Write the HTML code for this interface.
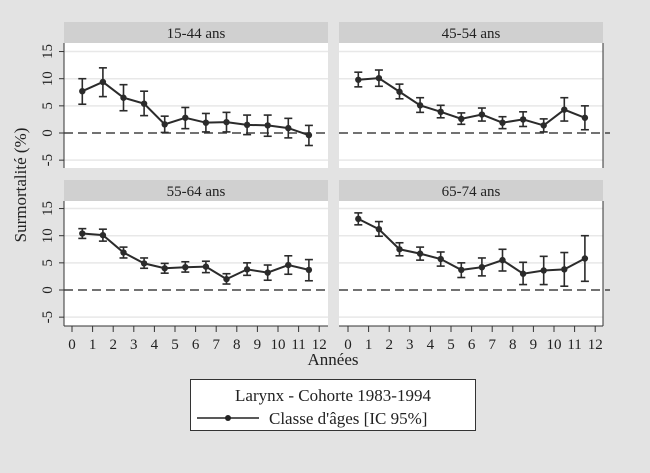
<!DOCTYPE html>
<html><head><meta charset="utf-8"><style>
html,body{margin:0;padding:0;background:#e3e3e3;}
svg{display:block;font-family:"Liberation Serif","DejaVu Serif",serif;}
</style></head><body>
<svg id="s" width="650" height="473" xmlns="http://www.w3.org/2000/svg">
<rect width="650" height="473" fill="#e3e3e3"/>
<text transform="translate(26,185) rotate(-90)" text-anchor="middle" font-size="17" fill="#222">Surmortalité (%)</text>
<text x="333" y="365" text-anchor="middle" font-size="17" fill="#222">Années</text>
<rect x="190.5" y="379.5" width="285" height="51" fill="#fff" stroke="#333" stroke-width="1"/>
<text x="333" y="401" text-anchor="middle" font-size="17" fill="#222">Larynx - Cohorte 1983-1994</text>
<line x1="197" y1="418" x2="259" y2="418" stroke="#222" stroke-width="1.5"/>
<circle cx="228" cy="418" r="3" fill="#222"/>
<text x="269" y="424" font-size="17" fill="#222">Classe d'âges [IC 95%]</text>
</svg>
<script>
const s=document.getElementById('s');const NS='http://www.w3.org/2000/svg';
function el(t,a,txt){const e=document.createElementNS(NS,t);for(const k in a)e.setAttribute(k,a[k]);if(txt!==undefined)e.textContent=txt;s.appendChild(e);return e;}
const D={
'15-44 ans':[[7.7,5.3,10],[9.4,6.7,12],[6.5,4.1,8.9],[5.4,3.2,7.7],[1.6,0.1,3.1],[2.8,0.8,4.7],[1.9,0.2,3.6],[2.0,0.2,3.8],[1.5,-0.3,3.3],[1.4,-0.6,3.3],[0.9,-0.9,2.7],[-0.4,-2.3,1.4]],
'45-54 ans':[[9.8,8.5,11.2],[10.1,8.6,11.6],[7.6,6.3,9],[5.1,3.8,6.5],[3.9,2.8,5.1],[2.6,1.6,3.7],[3.4,2.2,4.6],[1.9,0.8,3.0],[2.5,1.2,3.9],[1.4,0.2,2.6],[4.3,2.2,6.5],[2.8,0.6,5.0]],
'55-64 ans':[[10.4,9.5,11.3],[10.1,9.0,11.2],[6.9,5.9,7.9],[4.9,4.0,5.9],[4.0,3.1,4.9],[4.2,3.3,5.2],[4.3,3.2,5.3],[2.0,1.1,3.0],[3.8,2.7,5.0],[3.2,1.8,4.6],[4.6,2.9,6.3],[3.7,1.7,5.6]],
'65-74 ans':[[13.1,12,14.2],[11.2,9.9,12.6],[7.5,6.3,8.7],[6.7,5.5,7.9],[5.7,4.4,7.0],[3.7,2.3,5.0],[4.2,2.6,5.9],[5.5,3.5,7.5],[3.0,1.0,5.1],[3.6,1.0,6.2],[3.8,0.7,6.9],[5.8,1.6,10.0]]};
const P=[['15-44 ans',64,72,22,133,true,false],['45-54 ans',339,348,22,133,false,false],['55-64 ans',64,72,180,290,true,true],['65-74 ans',339,348,180,290,false,true]];
P.forEach(([name,x0,xz,ht,y0,left,bottom])=>{
 const w=264,pt=ht+21,pb=ht+146;
 const X=v=>xz+v*20.6, Y=v=>y0-v*5.43;
 el('rect',{x:x0,y:ht,width:w,height:21,fill:'#d0d0d0'});
 el('text',{x:x0+w/2,y:ht+16,'text-anchor':'middle','font-size':15,fill:'#222'},name);
 el('rect',{x:x0,y:pt,width:w,height:pb-pt,fill:'#fff'});
 [15,10,5,-5].forEach(v=>el('line',{x1:x0,x2:x0+w,y1:Y(v),y2:Y(v),stroke:'#e8e8e8','stroke-width':1.5}));
 el('line',{x1:x0,x2:x0+w+(left?0:7),y1:Y(0),y2:Y(0),stroke:'#444','stroke-width':1.5,'stroke-dasharray':'9,5'});
 if(left){el('line',{x1:x0,x2:x0,y1:pt,y2:pb,stroke:'#333'});
  [15,10,5,0,-5].forEach(v=>{el('line',{x1:x0-5,x2:x0,y1:Y(v),y2:Y(v),stroke:'#333'});
  el('text',{transform:`translate(${x0-12},${Y(v)}) rotate(-90)`,'text-anchor':'middle','font-size':15,fill:'#222'},String(v));});}
 else el('line',{x1:x0+w,x2:x0+w,y1:pt,y2:pb,stroke:'#333'});
 if(bottom){el('line',{x1:x0,x2:x0+w,y1:pb,y2:pb,stroke:'#333'});
  for(let i=0;i<=12;i++){el('line',{x1:X(i),x2:X(i),y1:pb,y2:pb+6,stroke:'#333'});
  el('text',{x:X(i),y:pb+23,'text-anchor':'middle','font-size':15,fill:'#222'},i);}}
 const d=D[name];
 el('polyline',{points:d.map((p,i)=>X(i+.5)+','+Y(p[0])).join(' '),fill:'none',stroke:'#2b2b2b','stroke-width':2});
 d.forEach((p,i)=>{const x=X(i+.5);
  el('line',{x1:x,x2:x,y1:Y(p[1]),y2:Y(p[2]),stroke:'#2b2b2b','stroke-width':1.6});
  [p[1],p[2]].forEach(v=>el('line',{x1:x-4,x2:x+4,y1:Y(v),y2:Y(v),stroke:'#2b2b2b','stroke-width':1.6}));
  el('circle',{cx:x,cy:Y(p[0]),r:3.2,fill:'#2b2b2b'});});
});
</script>
</body></html>
